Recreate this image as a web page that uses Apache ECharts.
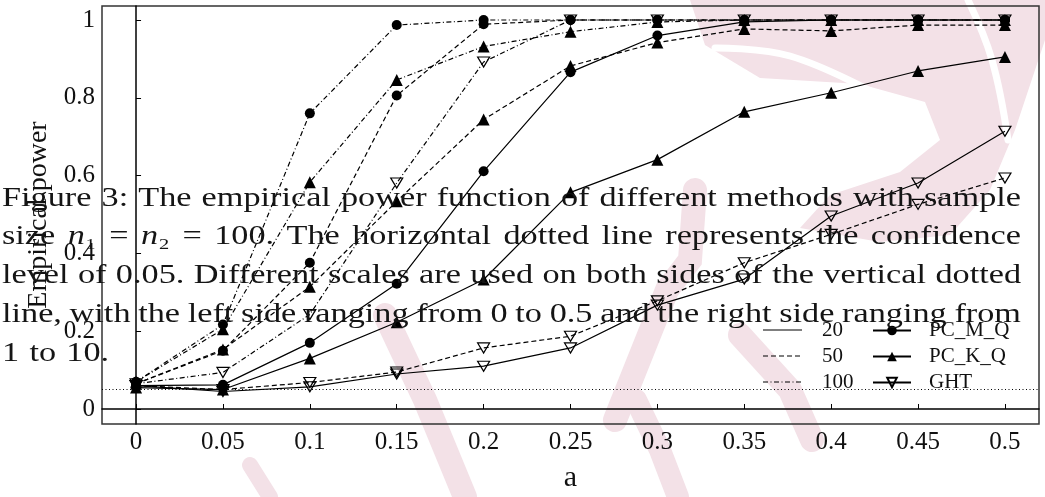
<!DOCTYPE html>
<html>
<head>
<meta charset="utf-8">
<script src="https://cdn.jsdelivr.net/npm/echarts@6/dist/echarts.min.js"></script>
<style>
  html, body { margin: 0; padding: 0; background: #fff; }
  #chart { width: 1045px; height: 497px; }
</style>
</head>
<body>
<div id="chart"></div>
<script>
// values of a on the x axis
var aValues = [0, 0.05, 0.1, 0.15, 0.2, 0.25, 0.3, 0.35, 0.4, 0.45, 0.5];
var yTicks = [0, 0.2, 0.4, 0.6, 0.8, 1];

// empirical power
var mq20  = [0.060, 0.062, 0.170, 0.322, 0.611, 0.866, 0.960, 0.995, 1, 1, 1];
var mq50  = [0.065, 0.150, 0.376, 0.806, 0.989, 1, 1, 1, 1, 1, 1];
var mq100 = [0.070, 0.217, 0.760, 0.987, 1, 1, 1, 1, 1, 1, 1];
var kq20  = [0.055, 0.050, 0.130, 0.223, 0.333, 0.557, 0.641, 0.764, 0.813, 0.869, 0.905];
var kq50  = [0.065, 0.153, 0.314, 0.534, 0.744, 0.882, 0.942, 0.977, 0.972, 0.987, 0.987];
var kq100 = [0.070, 0.205, 0.583, 0.846, 0.932, 0.970, 0.995, 1, 1, 1, 1];
var ght20  = [0.060, 0.045, 0.057, 0.090, 0.110, 0.157, 0.267, 0.334, 0.496, 0.581, 0.714];
var ght50  = [0.060, 0.050, 0.068, 0.095, 0.157, 0.187, 0.278, 0.376, 0.449, 0.526, 0.594];
var ght100 = [0.065, 0.094, 0.243, 0.581, 0.892, 1, 1, 1, 1, 1, 1];
var alpha = 0.05;

var sizeNames = ['20', '50', '100'];
var methodNames = ['PC_M_Q', 'PC_K_Q', 'GHT'];

var captionLines = [
  'Figure 3: The empirical power function of different methods with sample',
  'size {i|n}\u2081 = {i|n}\u2082 = 100. The horizontal dotted line represents the confidence',
  'level of 0.05. Different scales are used on both sides of the vertical dotted',
  'line, with the left side ranging from 0 to 0.5 and the right side ranging from',
  '1 to 10.'
];

var FONT = 'Liberation Serif';
var dashed = [5, 3];
var dashDot = [5, 2.5, 1, 2.5];
var lineTypes = ['solid', dashed, dashDot];
var openTri = 'path://M0,0L10,0L5,9Z';

function pairs(arr) {
  return aValues.map(function (a, i) { return [a, arr[i]]; });
}

function mkSeries(name, arr, type, symbol, size, filled) {
  return {
    name: name,
    type: 'line',
    data: arr ? pairs(arr) : [],
    symbol: symbol,
    symbolSize: size,
    showAllSymbol: true,
    lineStyle: { color: '#000', width: 1.2, type: type },
    itemStyle: filled ? { color: '#000' } : { color: 'rgba(255,255,255,0)', borderColor: '#000', borderWidth: 1.2 },
    emphasis: { disabled: true },
    animation: false
  };
}

// caption, justified word by word, glyphs widened to look like the TeX font
var ctx = document.createElement('canvas').getContext('2d');
var capSize = 27;
ctx.font = capSize + 'px "' + FONT + '"';
function wWidth(w) {
  return ctx.measureText(w.replace(/\{i\|([^}]*)\}/g, '$1')).width;
}
var x0 = 2, x1 = 1021, top0 = 185, lineStep = 38.8;
var capScale = 0.985 * (x1 - x0) / ctx.measureText(captionLines[0]).width;
var caption = [];
captionLines.forEach(function (line, li) {
  var words = line.split(' ');
  var widths = words.map(function (w) { return wWidth(w) * capScale; });
  var total = widths.reduce(function (s, v) { return s + v; }, 0);
  var justify = li < captionLines.length - 1;
  var gap = justify ? (x1 - x0 - total) / (words.length - 1) : ctx.measureText(' ').width * capScale * 1.2;
  var x = x0;
  words.forEach(function (w, wi) {
    caption.push({
      type: 'text', z: 100, silent: true,
      x: x, y: top0 + li * lineStep, scaleX: capScale,
      style: {
        text: w, fill: '#151515',
        font: capSize + 'px "' + FONT + '"',
        verticalAlign: 'top',
        rich: { i: { fontStyle: 'italic', fontFamily: FONT, fontSize: capSize, fill: '#151515' } }
      }
    });
    x += widths[wi] + gap;
  });
});

// line-type key (first legend column)
var keyRows = [330, 356, 382];
var lineKey = [];
sizeNames.forEach(function (n, i) {
  lineKey.push({ type: 'line', z: 50, silent: true, shape: { x1: 763, y1: keyRows[i], x2: 802, y2: keyRows[i] },
    style: { stroke: '#000', lineWidth: 1.2, lineDash: lineTypes[i] === 'solid' ? null : lineTypes[i] } });
  lineKey.push({ type: 'text', z: 50, silent: true, x: 822, y: keyRows[i],
    style: { text: n, fill: '#111', font: '21px "' + FONT + '"', verticalAlign: 'middle' } });
});

// faint watermark behind the plot
var pink = '#f3e1e7';
var watermark = [
  { type: 'polygon', z: -2, silent: true, shape: { points: [[690, 0], [1045, 0], [1045, 40], [1015, 130], [990, 190], [950, 235], [880, 242], [800, 228], [830, 195], [900, 172], [940, 140], [925, 102], [860, 84], [760, 78], [705, 45]] }, style: { fill: pink } },
  { type: 'polyline', z: -1, silent: true, shape: { points: [[715, 48], [790, 56], [880, 96]], smooth: 0.4 }, style: { stroke: '#fff', lineWidth: 7, lineCap: 'round', fill: null } },
  { type: 'polyline', z: -1, silent: true, shape: { points: [[968, 0], [992, 60], [1008, 140]], smooth: 0.4 }, style: { stroke: '#fff', lineWidth: 7, lineCap: 'round', fill: null } },
  { type: 'polyline', z: -2, silent: true, shape: { points: [[695, 190], [690, 260], [667, 290], [615, 420]] }, style: { stroke: pink, lineWidth: 24, lineCap: 'round', fill: null } },
  { type: 'polyline', z: -2, silent: true, shape: { points: [[385, 315], [425, 400], [465, 497]] }, style: { stroke: pink, lineWidth: 24, lineCap: 'round', fill: null } },
  { type: 'polyline', z: -2, silent: true, shape: { points: [[636, 400], [660, 450], [678, 497]] }, style: { stroke: pink, lineWidth: 22, lineCap: 'round', fill: null } },
  { type: 'polyline', z: -2, silent: true, shape: { points: [[740, 335], [790, 390], [812, 440]] }, style: { stroke: pink, lineWidth: 24, lineCap: 'round', fill: null } },
  { type: 'polyline', z: -2, silent: true, shape: { points: [[250, 465], [270, 497]] }, style: { stroke: pink, lineWidth: 16, lineCap: 'round', fill: null } }
];

var series = [
  mkSeries('m20', mq20, 'solid', 'circle', 10, true),
  mkSeries('m50', mq50, dashed, 'circle', 10, true),
  mkSeries('m100', mq100, dashDot, 'circle', 10, true),
  mkSeries('k20', kq20, 'solid', 'triangle', 12, true),
  mkSeries('k50', kq50, dashed, 'triangle', 12, true),
  mkSeries('k100', kq100, dashDot, 'triangle', 12, true),
  mkSeries('g20', ght20, 'solid', openTri, [12, 10], false),
  mkSeries('g50', ght50, dashed, openTri, [12, 10], false),
  mkSeries('g100', ght100, dashDot, openTri, [12, 10], false),
  // legend-only entries for the marker key
  mkSeries(methodNames[0], null, 'solid', 'circle', 10, true),
  mkSeries(methodNames[1], null, 'solid', 'triangle', 12, true),
  mkSeries(methodNames[2], null, 'solid', openTri, [12, 10], false)
];
series[0].markLine = {
  silent: true, symbol: 'none', label: { show: false },
  lineStyle: { color: '#000', width: 1, type: [1, 2.5] },
  data: [{ yAxis: alpha }]
};

var option = {
  animation: false,
  backgroundColor: '#fff',
  grid: { left: 102, right: 6, top: 6, bottom: 73, show: true, borderColor: '#333', borderWidth: 1.5, outerBoundsMode: 'none' },
  legend: {
    data: methodNames, orient: 'vertical', left: 872, top: 320, padding: 0, itemWidth: 38, itemHeight: 12, itemGap: 5,
    textStyle: { fontFamily: FONT, fontSize: 21, color: '#111', padding: [0, 0, 0, 13] }, selectedMode: false
  },
  xAxis: {
    type: 'value', min: -0.0196, max: 0.5196,
    name: 'a', nameLocation: 'middle', nameGap: 39,
    nameTextStyle: { fontFamily: FONT, fontSize: 30, color: '#111' },
    axisLine: { lineStyle: { color: '#000', width: 1.5 } },
    axisTick: { inside: true, length: 5, customValues: aValues, lineStyle: { color: '#000' } },
    axisLabel: { customValues: aValues, margin: 6, fontFamily: FONT, fontSize: 25, color: '#111',
      formatter: function (v) { return String(+v.toFixed(2)); } },
    splitLine: { show: false }
  },
  yAxis: {
    type: 'value', min: -0.0386, max: 1.036,
    name: 'Empirical power', nameLocation: 'middle', nameGap: 42,
    nameTextStyle: { fontFamily: FONT, fontSize: 28, color: '#111' },
    axisLine: { show: true, lineStyle: { color: '#000', width: 1.5 } },
    axisTick: { show: true, inside: true, length: 5, customValues: yTicks, lineStyle: { color: '#000' } },
    axisLabel: { customValues: yTicks, margin: 7, fontFamily: FONT, fontSize: 25, color: '#111',
      formatter: function (v) { return String(+v.toFixed(1)); } },
    splitLine: { show: false }
  },
  graphic: watermark.concat(lineKey, caption),
  series: series
};

var chart = echarts.init(document.getElementById('chart'), null, { renderer: 'canvas' });
chart.setOption(option);
</script>
</body>
</html>
